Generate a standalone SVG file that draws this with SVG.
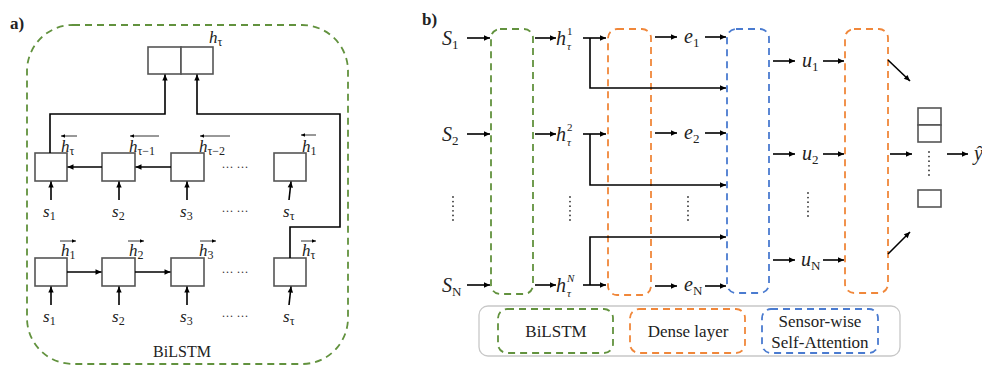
<svg xmlns="http://www.w3.org/2000/svg" width="982" height="367" viewBox="0 0 982 367">
<defs>
<marker id="ah" viewBox="0 0 10 10" refX="10" refY="5" markerWidth="7" markerHeight="6" orient="auto" markerUnits="userSpaceOnUse"><path d="M0,0.5 L10,5 L0,9.5 z" fill="#000"/></marker>
<marker id="sa" viewBox="0 0 10 10" refX="10" refY="5" markerWidth="5" markerHeight="4" orient="auto" markerUnits="userSpaceOnUse"><path d="M0,0.5 L10,5 L0,9.5 z" fill="#000"/></marker>
</defs>
<style>
text{font-family:"Liberation Serif","DejaVu Serif",serif;fill:#222}
.i{font-style:italic}
.m{font-size:17px}
.b{font-size:20px}
.sub{font-size:12px;font-style:normal}
.bsub{font-size:13px;font-style:normal}
.ss{font-size:11px;font-style:normal}
.ssi{font-size:11px;font-style:italic}
.cell{fill:#fff;stroke:#555;stroke-width:1.6}
.a{fill:none;stroke:#000;stroke-width:1.6;marker-end:url(#ah)}
.ov{fill:none;stroke:#333;stroke-width:1;marker-end:url(#sa)}
.g{fill:none;stroke:#62923e;stroke-width:1.8;stroke-dasharray:7 5}
.o{fill:none;stroke:#f0873a;stroke-width:1.8;stroke-dasharray:7 5}
.bl{fill:none;stroke:#4a7bd0;stroke-width:1.8;stroke-dasharray:7 5}
.lbl{font-size:17px}
.vd{fill:none;stroke:#333;stroke-width:1.8;stroke-linecap:round;stroke-dasharray:0 4.6}
.hd{font-size:12px;fill:#333}
</style>

<!-- Panel a -->
<text x="10" y="29" font-size="17" font-weight="bold">a)</text>
<g id="bilstm-a">
<rect x="27" y="25" width="321" height="339" rx="46" class="g"/>
<text x="182" y="357" font-size="16" text-anchor="middle">BiLSTM</text>
</g>

<g id="concat">
<rect x="148" y="47" width="33" height="27" class="cell"/>
<rect x="181" y="47" width="32" height="27" class="cell"/>
<text x="209" y="43" class="m i">h<tspan class="sub" dy="3">τ</tspan></text>
</g>

<g id="bw1"><rect x="35" y="153" width="32" height="28" class="cell"/>
<text x="61" y="152" class="m i">h<tspan class="sub" dy="3">τ</tspan></text></g>
<g id="bw2"><rect x="102" y="153" width="33" height="28" class="cell"/>
<text x="129" y="152" class="m i">h<tspan class="sub" dy="3">τ−1</tspan></text></g>
<g id="bw3"><rect x="171" y="153" width="33" height="28" class="cell"/>
<text x="199" y="152" class="m i">h<tspan class="sub" dy="3">τ−2</tspan></text></g>
<g id="bw4"><rect x="274" y="153" width="32" height="28" class="cell"/>
<text x="302" y="152" class="m i">h<tspan class="sub" dy="3">1</tspan></text></g>
<text x="235" y="171" class="hd" text-anchor="middle">··· ···</text>

<g id="fw1"><rect x="35" y="258" width="32" height="28" class="cell"/>
<text x="61" y="256" class="m i">h<tspan class="sub" dy="3">1</tspan></text></g>
<g id="fw2"><rect x="102" y="258" width="33" height="28" class="cell"/>
<text x="129" y="256" class="m i">h<tspan class="sub" dy="3">2</tspan></text></g>
<g id="fw3"><rect x="171" y="258" width="33" height="28" class="cell"/>
<text x="199" y="256" class="m i">h<tspan class="sub" dy="3">3</tspan></text></g>
<g id="fw4"><rect x="274" y="258" width="32" height="28" class="cell"/>
<text x="302" y="256" class="m i">h<tspan class="sub" dy="3">τ</tspan></text></g>
<text x="235" y="276" class="hd" text-anchor="middle">··· ···</text>

<g id="inputs-a">
<text x="43" y="217" class="m i">s<tspan class="sub" dy="3">1</tspan></text>
<text x="112" y="217" class="m i">s<tspan class="sub" dy="3">2</tspan></text>
<text x="180" y="217" class="m i">s<tspan class="sub" dy="3">3</tspan></text>
<text x="235" y="215" class="hd" text-anchor="middle">··· ···</text>
<text x="283" y="217" class="m i">s<tspan class="sub" dy="3">τ</tspan></text>
<text x="43" y="322" class="m i">s<tspan class="sub" dy="3">1</tspan></text>
<text x="112" y="322" class="m i">s<tspan class="sub" dy="3">2</tspan></text>
<text x="180" y="322" class="m i">s<tspan class="sub" dy="3">3</tspan></text>
<text x="235" y="320" class="hd" text-anchor="middle">··· ···</text>
<text x="283" y="322" class="m i">s<tspan class="sub" dy="3">τ</tspan></text>
</g>

<g id="connectors-a">
<path d="M77,136 H61" class="ov"/>
<path d="M159,136 H130" class="ov"/>
<path d="M230,136 H200" class="ov"/>
<path d="M316,135 H301" class="ov"/>
<path d="M60,241 H76" class="ov"/>
<path d="M128,241 H144" class="ov"/>
<path d="M200,241 H216" class="ov"/>
<path d="M301,241 H316" class="ov"/>
<path d="M50,153 V114 H165 V74.5" class="a"/>
<path d="M290,258 V227 H340 V114 H197 V74.5" class="a"/>
<path d="M102,167 H67.5" class="a"/>
<path d="M171,167 H135.5" class="a"/>
<path d="M67,272 H101.5" class="a"/>
<path d="M135,272 H170.5" class="a"/>
<path d="M51,200 V181.5" class="a"/>
<path d="M119,200 V181.5" class="a"/>
<path d="M187,200 V181.5" class="a"/>
<path d="M289,200 L291,181.5" class="a"/>
<path d="M51,305 V286.5" class="a"/>
<path d="M119,305 V286.5" class="a"/>
<path d="M187,305 V286.5" class="a"/>
<path d="M289,305 L291,286.5" class="a"/>
</g>

<!-- Panel b -->
<text x="422" y="25" font-size="17" font-weight="bold">b)</text>

<g id="inputs-b">
<text x="442" y="45" class="b i">S<tspan class="bsub" dy="4">1</tspan></text>
<text x="442" y="141" class="b i">S<tspan class="bsub" dy="4">2</tspan></text>
<text x="442" y="292" class="b i">S<tspan class="bsub" dy="4">N</tspan></text>
<path d="M453,197 V223" class="vd"/>
</g>

<g id="bilstm-b"><rect x="491" y="29" width="42" height="265" rx="9" class="g"/></g>

<g id="hidden-b">
<text x="556" y="45" class="b i">h</text><text x="567" y="35" class="ss">1</text><text x="567" y="50" class="ssi">τ</text>
<text x="556" y="141" class="b i">h</text><text x="567" y="131" class="ss">2</text><text x="567" y="146" class="ssi">τ</text>
<text x="556" y="292" class="b i">h</text><text x="567" y="282" class="ssi">N</text><text x="567" y="297" class="ssi">τ</text>
<path d="M570,197 V223" class="vd"/>
</g>

<g id="dense-b"><rect x="608" y="29" width="43" height="266" rx="9" class="o"/></g>

<g id="embed-b">
<text x="684" y="43" class="b i">e<tspan class="bsub" dy="4">1</tspan></text>
<text x="684" y="139" class="b i">e<tspan class="bsub" dy="4">2</tspan></text>
<text x="684" y="291" class="b i">e<tspan class="bsub" dy="4">N</tspan></text>
<path d="M688,197 V223" class="vd"/>
</g>

<g id="attention-b"><rect x="727" y="29" width="42" height="264" rx="9" class="bl"/></g>

<g id="u-b">
<text x="802" y="67" class="b i">u<tspan class="bsub" dy="4">1</tspan></text>
<text x="802" y="160" class="b i">u<tspan class="bsub" dy="4">2</tspan></text>
<text x="801" y="266" class="b i">u<tspan class="bsub" dy="4">N</tspan></text>
<path d="M808,193 V219" class="vd"/>
</g>

<g id="dense2-b"><rect x="845" y="29" width="43" height="264" rx="9" class="o"/></g>

<g id="output-b">
<rect x="918" y="108" width="23" height="17" class="cell"/>
<rect x="918" y="125" width="23" height="17" class="cell"/>
<path d="M929,152 V178" class="vd"/>
<rect x="918" y="190" width="23" height="17" class="cell"/>
<text x="974" y="160" class="b i">ŷ</text>
</g>

<g id="connectors-b">
<path d="M467,38 H490" class="a"/>
<path d="M467,134 H490" class="a"/>
<path d="M467,285 H490" class="a"/>
<path d="M535,38 H556" class="a"/>
<path d="M535,134 H556" class="a"/>
<path d="M535,285 H556" class="a"/>
<path d="M583,38 H606" class="a"/>
<path d="M583,134 H606" class="a"/>
<path d="M583,285 H606" class="a"/>
<path d="M590,38 V88 H726" class="a"/>
<path d="M590,134 V185 H726" class="a"/>
<path d="M590,285 V237 H726" class="a"/>
<path d="M655,37 H677" class="a"/>
<path d="M655,133 H677" class="a"/>
<path d="M655,286 H677" class="a"/>
<path d="M705,37 H726" class="a"/>
<path d="M705,133 H726" class="a"/>
<path d="M705,286 H726" class="a"/>
<path d="M773,61 H795" class="a"/>
<path d="M773,154 H795" class="a"/>
<path d="M773,260 H795" class="a"/>
<path d="M823,61 H844" class="a"/>
<path d="M823,154 H844" class="a"/>
<path d="M823,260 H844" class="a"/>
<path d="M888,60 L910,81" class="a"/>
<path d="M890,154 H912" class="a"/>
<path d="M888,254 L910,232" class="a"/>
<path d="M947,154 H968" class="a"/>
</g>

<g id="legend">
<rect x="479" y="306" width="421" height="50" rx="9" fill="#fff" stroke="#c8c8c8" stroke-width="1.3"/>
<rect x="498" y="309" width="115" height="44" rx="9" class="g"/>
<text x="556" y="337" class="lbl" text-anchor="middle">BiLSTM</text>
<rect x="630" y="309" width="115" height="44" rx="9" class="o"/>
<text x="688" y="337" class="lbl" text-anchor="middle">Dense layer</text>
<rect x="762" y="309" width="116" height="44" rx="9" class="bl"/>
<text x="820" y="327" class="lbl" text-anchor="middle">Sensor-wise</text>
<text x="820" y="348" class="lbl" text-anchor="middle">Self-Attention</text>
</g>
</svg>
